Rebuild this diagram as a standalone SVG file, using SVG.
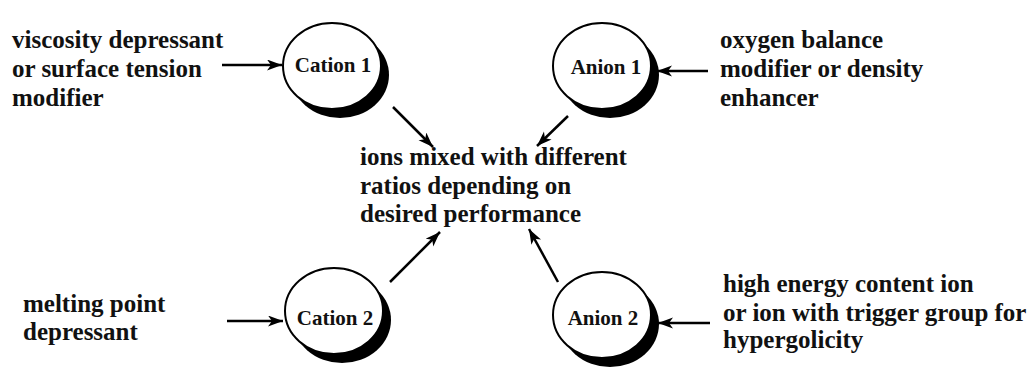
<svg xmlns="http://www.w3.org/2000/svg" width="1033" height="372" viewBox="0 0 1033 372">
<style>
  .lbl { font-family: "Liberation Serif", "Times New Roman", serif; font-weight: bold; font-size: 25px; fill: #111; }
  .ion { font-family: "Liberation Serif", "Times New Roman", serif; font-weight: bold; font-size: 21px; fill: #111; text-anchor: middle; }
  .ring { fill: #fff; stroke: #000; stroke-width: 2; }
  .shade { fill: #000; }
  .conn { stroke: #000; stroke-width: 2.5; fill: none; marker-end: url(#ah); }
</style>
<defs>
  <marker id="ah" markerUnits="userSpaceOnUse" markerWidth="16" markerHeight="12" refX="15" refY="5.5" orient="auto">
    <path d="M0,0 L15,5.5 L0,11 L4,5.5 Z" fill="#000"/>
  </marker>
</defs>
<rect width="1033" height="372" fill="#fff"/>

<g id="cation1">
  <ellipse class="shade" cx="340" cy="75" rx="49" ry="43"/>
  <ellipse class="ring" cx="332" cy="66" rx="49" ry="43"/>
  <text class="ion" x="333" y="72">Cation 1</text>
</g>
<g id="anion1">
  <ellipse class="shade" cx="610" cy="75" rx="49" ry="43"/>
  <ellipse class="ring" cx="602" cy="66" rx="49" ry="43"/>
  <text class="ion" x="606" y="74">Anion 1</text>
</g>
<g id="cation2">
  <ellipse class="shade" cx="342" cy="320" rx="49" ry="43"/>
  <ellipse class="ring" cx="334" cy="311" rx="49" ry="43"/>
  <text class="ion" x="335" y="325">Cation 2</text>
</g>
<g id="anion2">
  <ellipse class="shade" cx="610" cy="324" rx="49" ry="43"/>
  <ellipse class="ring" cx="602" cy="315" rx="49" ry="43"/>
  <text class="ion" x="603" y="325">Anion 2</text>
</g>

<g id="label-tl">
  <text class="lbl" x="12" y="48">viscosity depressant</text>
  <text class="lbl" x="12" y="77">or surface tension</text>
  <text class="lbl" x="12" y="106">modifier</text>
</g>
<g id="label-tr">
  <text class="lbl" x="720" y="48">oxygen balance</text>
  <text class="lbl" x="720" y="77">modifier or density</text>
  <text class="lbl" x="720" y="106">enhancer</text>
</g>
<g id="center">
  <text class="lbl" x="360" y="165">ions mixed with different</text>
  <text class="lbl" x="360" y="194">ratios depending on</text>
  <text class="lbl" x="360" y="222">desired performance</text>
</g>
<g id="label-bl">
  <text class="lbl" x="23" y="312">melting point</text>
  <text class="lbl" x="23" y="340">depressant</text>
</g>
<g id="label-br">
  <text class="lbl" x="723" y="292">high energy content ion</text>
  <text class="lbl" x="723" y="321">or ion with trigger group for</text>
  <text class="lbl" x="723" y="348">hypergolicity</text>
</g>

<g id="connectors">
  <line class="conn" x1="222" y1="65" x2="282" y2="65"/>
  <line class="conn" x1="708" y1="71" x2="657" y2="71"/>
  <line class="conn" x1="227" y1="321" x2="283" y2="321"/>
  <line class="conn" x1="710" y1="323" x2="658" y2="323"/>
  <line class="conn" x1="393" y1="107" x2="433" y2="147"/>
  <line class="conn" x1="568" y1="116" x2="537" y2="146"/>
  <line class="conn" x1="390" y1="282" x2="440" y2="232"/>
  <line class="conn" x1="558" y1="282" x2="529" y2="229"/>
</g>
</svg>
